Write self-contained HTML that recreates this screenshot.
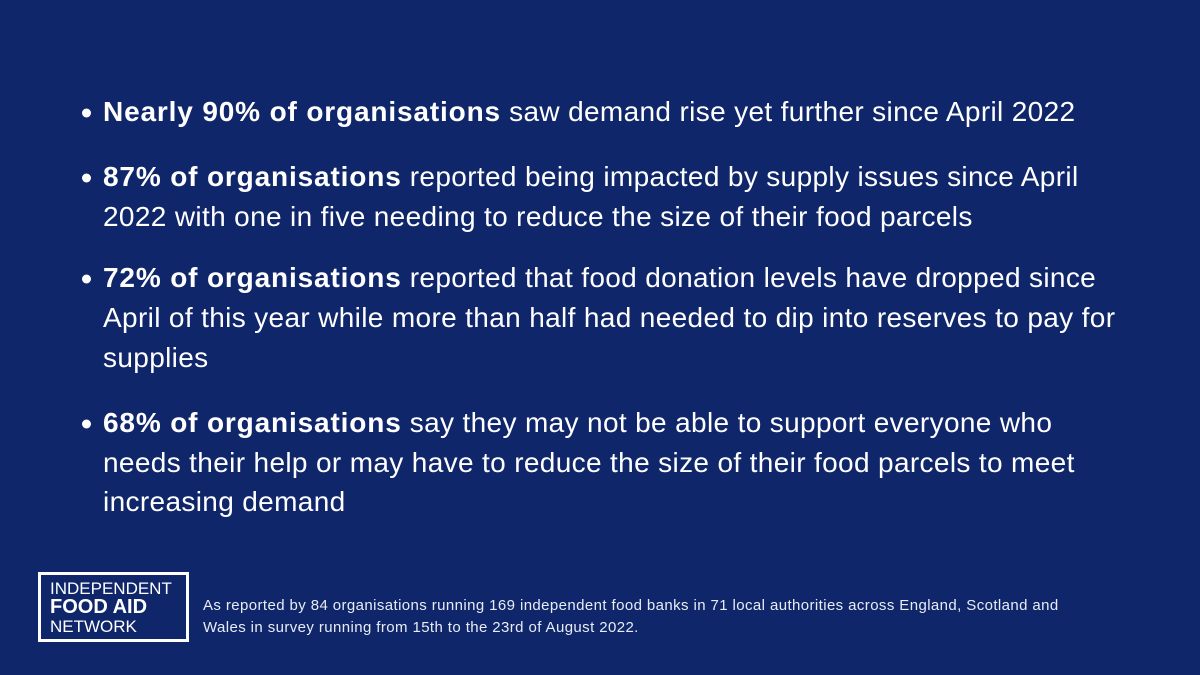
<!DOCTYPE html>
<html><head><style>
html,body{margin:0;padding:0}
body{width:1200px;height:675px;background:#10266a;position:relative;overflow:hidden;font-family:"Liberation Sans",sans-serif;color:#fff}
.l{position:absolute;left:103px;font-size:28px;line-height:40px;white-space:nowrap;letter-spacing:0.35px;transform:translateY(-50%)}
.d{position:absolute;left:82px;width:9px;height:9px;border-radius:50%;background:#fff;transform:translateY(-50%)}
b{font-weight:bold;letter-spacing:0.85px}
.logo{position:absolute;left:38px;top:572px;width:136px;height:64px;border:3px solid #fff;font-size:17px;line-height:19px;padding:0 0 0 9px;box-sizing:content-box;white-space:nowrap}
.f{position:absolute;left:203px;font-size:15px;line-height:22px;white-space:nowrap;color:#e8ecf5;letter-spacing:0.4px}
</style></head><body>
<div class="d" style="top:113px"></div><div class="l" style="top:112px"><b>Nearly 90% of organisations</b> saw demand rise yet further since April 2022</div>
<div class="d" style="top:178px"></div><div class="l" style="top:177px"><b>87% of organisations</b> reported being impacted by supply issues since April</div>
<div class="l" style="top:217px">2022 with one in five needing to reduce the size of their food parcels</div>
<div class="d" style="top:279px"></div><div class="l" style="top:278px"><b>72% of organisations</b> reported that food donation levels have dropped since</div>
<div class="l" style="top:318px">April of this year while more than half had needed to dip into reserves to pay for</div>
<div class="l" style="top:358px">supplies</div>
<div class="d" style="top:424px"></div><div class="l" style="top:423px"><b>68% of organisations</b> say they may not be able to support everyone who</div>
<div class="l" style="top:463px">needs their help or may have to reduce the size of their food parcels to meet</div>
<div class="l" style="top:502px">increasing demand</div>
<div class="logo"><div style="margin-top:4px">INDEPENDENT</div><div style="font-weight:bold;font-size:20px">FOOD AID</div><div>NETWORK</div></div>
<div class="f" style="top:595px">As reported by 84 organisations running 169 independent food banks in 71 local authorities across England, Scotland and</div>
<div class="f" style="top:617px">Wales in survey running from 15th to the 23rd of August 2022.</div>
</body></html>
